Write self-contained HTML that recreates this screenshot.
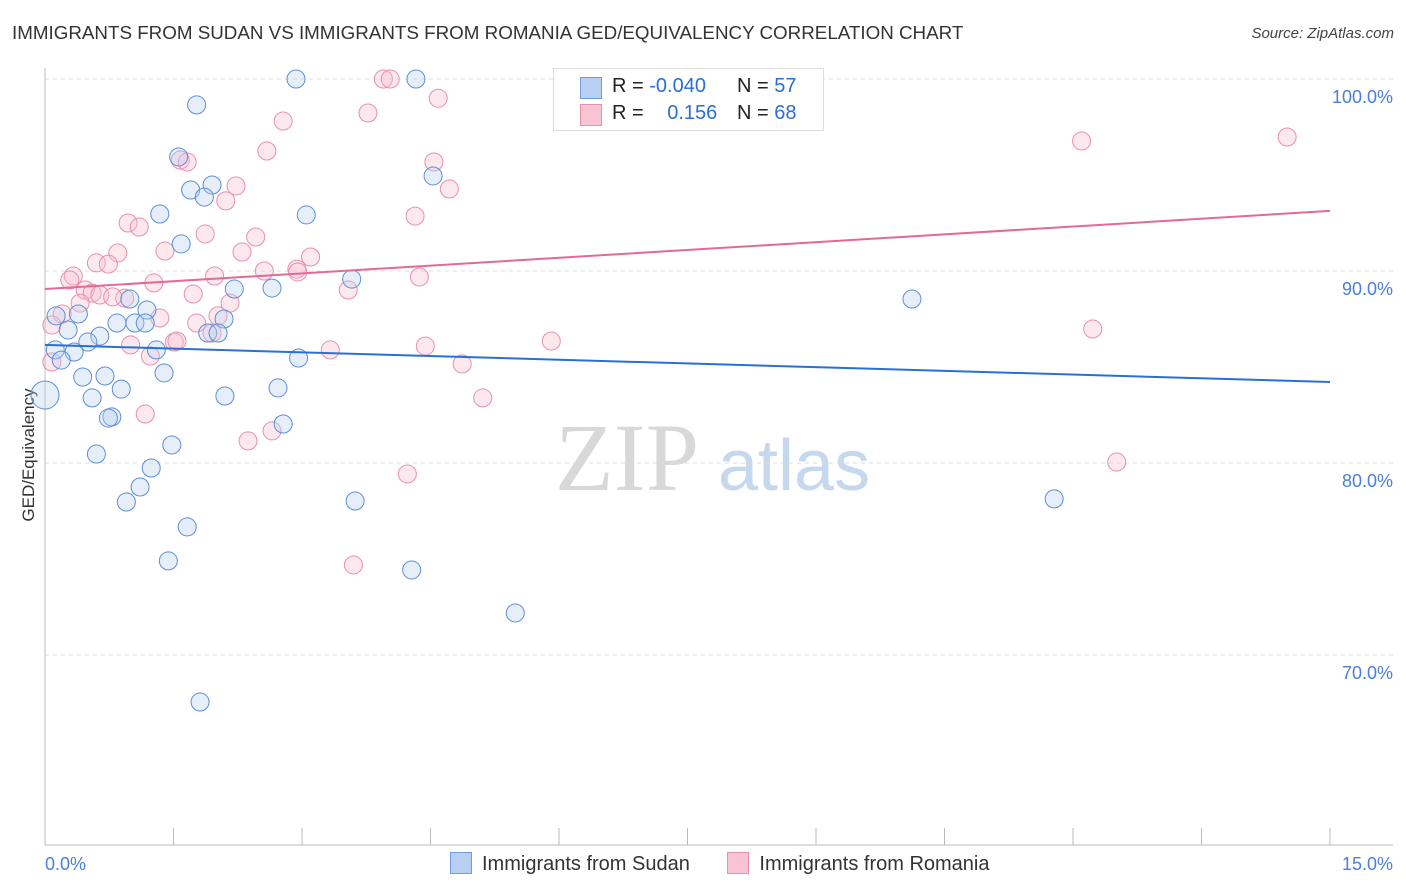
<!DOCTYPE html>
<html><head><meta charset="utf-8">
<style>
body{margin:0;background:#fff;font-family:"Liberation Sans",sans-serif;}
#wrap{position:relative;width:1406px;height:892px;overflow:hidden;}
.t{position:absolute;white-space:nowrap;}
</style></head>
<body>
<div id="wrap">
<div class="t" style="left:12px;top:22px;font-size:18.8px;color:#333;">IMMIGRANTS FROM SUDAN VS IMMIGRANTS FROM ROMANIA GED/EQUIVALENCY CORRELATION CHART</div>
<div class="t" style="right:12px;top:25px;font-size:15px;color:#444;font-style:italic;">Source: ZipAtlas.com</div>
<svg id="plot" width="1406" height="892" style="position:absolute;left:0;top:0"></svg>
</div>
<script>
const xTicks=[0,1.5,3,4.5,6,7.5,9,10.5,12,13.5,15];
const yTicks=[70,80,90,100];
const yTickLabels=["70.0%","80.0%","90.0%","100.0%"];
const sudanX=[2.93,4.33,1.77,1.56,4.53,1.95,1.7,1.86,1.34,3.05,1.59,3.58,2.21,2.65,10.12,0.99,1.19,0.13,0.39,0.84,1.05,1.17,2.09,0.27,1.9,2.02,0.64,0.5,0.12,0.34,1.3,0.19,2.96,1.39,0.44,0.7,0.89,2.72,0.55,2.1,0,0.78,0.74,2.78,1.48,0.6,1.24,1.11,0.95,3.62,11.78,1.66,1.44,4.28,5.49,1.81];
const sudanY=[100,100,98.65,95.94,94.95,94.48,94.22,93.85,92.97,92.92,91.41,89.58,89.06,89.11,88.54,88.54,87.97,87.66,87.76,87.29,87.29,87.29,87.5,86.93,86.77,86.77,86.61,86.3,85.89,85.78,85.89,85.36,85.47,84.69,84.48,84.53,83.85,83.91,83.39,83.49,83.54,82.4,82.34,82.03,80.94,80.47,79.74,78.75,77.97,78.02,78.13,76.67,74.9,74.43,72.19,67.55];
const romX=[3.95,4.03,6.54,4.59,3.77,2.78,12.1,14.5,4.54,1.58,1.66,2.59,4.72,2.23,2.11,4.32,0.97,1.1,1.87,1.4,2.3,2.46,0.85,3.1,0.6,0.74,0.33,0.29,2.56,2.94,2.95,1.98,4.37,1.27,0.47,0.55,0.64,0.93,0.79,1.73,3.54,0.41,2.16,0.2,1.34,1.77,2.02,0.08,1.95,1.51,1.54,1.0,12.23,5.91,4.44,3.33,1.23,0.08,4.87,5.11,1.17,2.37,2.65,4.23,12.51,3.6];
const romY=[100,100,98.4,99.0,98.23,97.81,96.77,96.98,95.68,95.78,95.68,96.25,94.27,94.43,93.65,92.86,92.5,92.29,91.93,91.04,90.99,91.77,90.94,90.73,90.42,90.36,89.74,89.53,90.0,90.1,89.95,89.74,89.69,89.38,89.01,88.85,88.75,88.59,88.65,88.8,89.01,88.33,88.33,87.76,87.55,87.29,87.66,87.19,86.77,86.3,86.35,86.15,86.98,86.35,86.09,85.89,85.57,85.26,85.16,83.39,82.55,81.15,81.67,79.43,80.05,74.69];
const sudanTrend=[86.15,84.22];
const romTrend=[89.06,93.13];
const sx=v=>45+v*(1285/15);
const sy=v=>79+(100-v)*19.2;
const svg=document.getElementById('plot');
const NS='http://www.w3.org/2000/svg';
function mk(tag,at){const e=document.createElementNS(NS,tag);for(const k in at)e.setAttribute(k,at[k]);svg.appendChild(e);return e;}
let w=mk('text',{x:555,y:490,'font-size':96,fill:'#d8d8d8','font-family':'Liberation Serif, serif'});w.textContent='ZIP';


w=mk('text',{x:718,y:490,'font-size':72,fill:'#c6d8ee','font-family':'Liberation Sans, sans-serif'});w.textContent='atlas';


yTicks.forEach((t,i)=>{
 const g=mk('line',{x1:45,x2:1393,y1:sy(t),y2:sy(t),stroke:'#ddd','stroke-dasharray':'4,4'});
 
 
 const l=mk('text',{x:1393,y:sy(t)+24,'text-anchor':'end','font-size':18,fill:'#4a7fd4'});l.textContent=yTickLabels[i];
 
 
});
let a=mk('line',{x1:45,x2:45,y1:68,y2:845,stroke:'#bbb'});


a=mk('line',{x1:45,x2:1393,y1:845,y2:845,stroke:'#bbb'});


xTicks.forEach(t=>{const k=mk('line',{x1:sx(t),x2:sx(t),y1:828,y2:845,stroke:'#bbb'});
 
 });
let xl=mk('text',{x:45,y:870,'font-size':18,fill:'#4a7fd4'});xl.textContent='0.0%';


xl=mk('text',{x:1393,y:870,'text-anchor':'end','font-size':18,fill:'#4a7fd4'});xl.textContent='15.0%';


let yt=mk('text',{x:0,y:0,'font-size':17,fill:'#333',transform:'translate(34,455) rotate(-90)','text-anchor':'middle'});yt.textContent='GED/Equivalency';


function pts(X,Y,fill,stroke,name){X.forEach((x,i)=>{const r=(x===0&&name==='sudan-point')?14:9;
 const c=mk('circle',{cx:sx(x),cy:sy(Y[i]),r:r,fill:fill,'fill-opacity':0.35,stroke:stroke,'stroke-width':1});
 
 });}
pts(romX,romY,'#f8bccd','#e890ab','romania-point');
pts(sudanX,sudanY,'#b7cff2','#5b8fd8','sudan-point');
let tl=mk('line',{x1:sx(0),y1:sy(sudanTrend[0]),x2:sx(15),y2:sy(sudanTrend[1]),stroke:'#2a6fd6','stroke-width':2});


tl=mk('line',{x1:sx(0),y1:sy(romTrend[0]),x2:sx(15),y2:sy(romTrend[1]),stroke:'#e46a95','stroke-width':2});


</script>
<div class="t" style="left:553px;top:68px;width:269px;height:61px;border:1px solid #ddd;background:#fff;font-size:20px;color:#222;">
 <div style="position:absolute;left:26px;top:8px;width:20px;height:20px;background:#b7cff2;border:1px solid #6f9be0"></div>
 <div style="position:absolute;left:58px;top:6px">R = <span style="color:#2a6fd6">-0.040</span></div>
 <div style="position:absolute;left:183px;top:6px">N = <span style="color:#2a6fd6">57</span></div>
 <div style="position:absolute;left:26px;top:35px;width:20px;height:20px;background:#f8c4d3;border:1px solid #e890ab"></div>
 <div style="position:absolute;left:58px;top:33px">R = <span style="color:#2a6fd6;margin-left:18px">0.156</span></div>
 <div style="position:absolute;left:183px;top:33px">N = <span style="color:#2a6fd6">68</span></div>
</div>
<div class="t" style="left:450px;top:852px;font-size:20px;color:#333;">
 <span><span style="display:inline-block;width:20px;height:20px;background:#b7cff2;border:1px solid #6f9be0;vertical-align:-4px;margin-right:10px"></span>Immigrants from Sudan</span>
 <span style="margin-left:32px"><span style="display:inline-block;width:20px;height:20px;background:#f8c4d3;border:1px solid #e890ab;vertical-align:-4px;margin-right:10px"></span>Immigrants from Romania</span>
</div>
</body></html>
